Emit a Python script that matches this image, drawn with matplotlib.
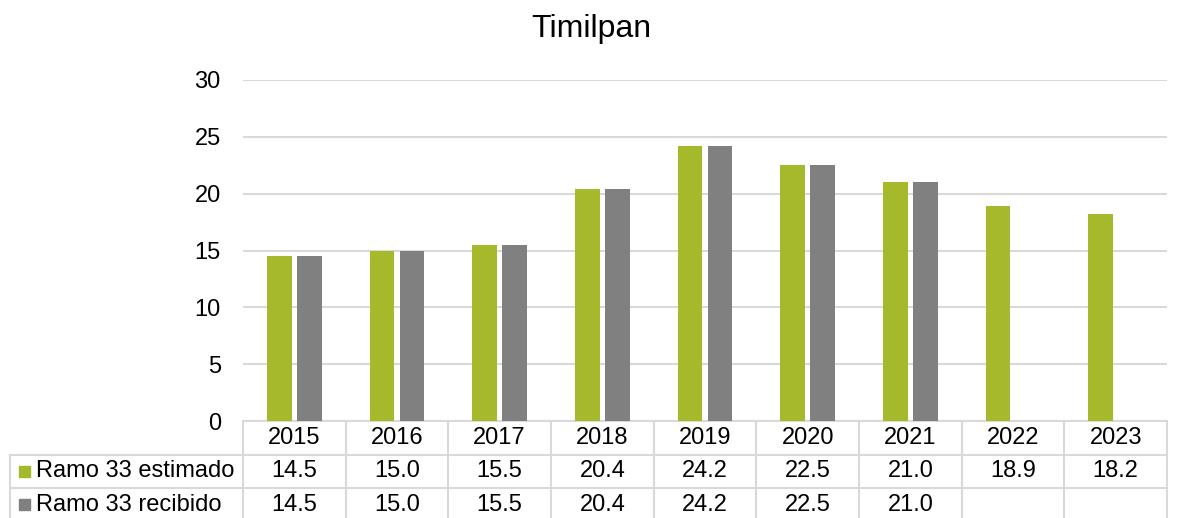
import matplotlib
matplotlib.use("Agg")
import matplotlib.pyplot as plt
import matplotlib.transforms as mtransforms
import numpy as np
from matplotlib.patches import Rectangle

plt.rcParams['font.family'] = ['Liberation Sans', 'DejaVu Sans']

title = "Timilpan"
years = ["2015", "2016", "2017", "2018", "2019", "2020", "2021", "2022", "2023"]
estimado = [14.5, 15.0, 15.5, 20.4, 24.2, 22.5, 21.0, 18.9, 18.2]
recibido = [14.5, 15.0, 15.5, 20.4, 24.2, 22.5, 21.0, None, None]
series_names = ["Ramo 33 estimado", "Ramo 33 recibido"]
colors = ["#A6B92B", "#808080"]
yticks = [0, 5, 10, 15, 20, 25, 30]

W, H = 1182, 518
fig = plt.figure(figsize=(W / 100, H / 100), dpi=100)
ax_l, ax_r, ax_b, ax_t = 243, 1167, 421, 80
ax = fig.add_axes([ax_l / W, 1 - ax_b / H, (ax_r - ax_l) / W, (ax_b - ax_t) / H])

x = np.arange(len(years))
bw = 0.24
off = 0.145
est_vals = np.array(estimado, dtype=float)
rec_vals = np.array([np.nan if v is None else v for v in recibido], dtype=float)
ax.bar(x - off, est_vals, width=bw, color=colors[0], zorder=3)
mask = ~np.isnan(rec_vals)
ax.bar(x[mask] + off, rec_vals[mask], width=bw, color=colors[1], zorder=3)

n = len(years)
ax.set_xlim(-0.5, n - 0.5)
ax.set_ylim(0, 30)
ax.set_yticks(yticks)
ax.set_yticklabels([str(v) for v in yticks], fontsize=17)
ax.tick_params(axis='y', length=0, pad=16)
ax.set_xticks([])
ax.grid(axis='y', color='#D9D9D9', linewidth=1.5, zorder=0)
for s in ax.spines.values():
    s.set_visible(False)

fig.text(0.5, 1 - 29 / H, title, ha='center', va='center', fontsize=23)

# ---- data table drawn below the axes ----
axw = ax_r - ax_l
axh = ax_b - ax_t
row_h = 33.5 / axh          # row height in axes fraction
cat_w = axw / n             # px per category
lab_left = -0.5 - (ax_l - 10) / cat_w   # left edge of label column in data units
trans = mtransforms.blended_transform_factory(ax.transData, ax.transAxes)
grid_c = '#D9D9D9'
lw = 1.5
fs = 17

def fmt(v):
    return "" if v is None else f"{v:.1f}"

rows = [years, [fmt(v) for v in estimado], [fmt(v) for v in recibido]]

# horizontal lines
for r in range(4):
    yy = -r * row_h
    x0 = -0.5 if r == 0 else lab_left
    ax.plot([x0, n - 0.5], [yy, yy], color=grid_c, lw=lw, transform=trans, clip_on=False)
# vertical lines
for k in range(n + 1):
    xx = k - 0.5
    ax.plot([xx, xx], [0, -3 * row_h], color=grid_c, lw=lw, transform=trans, clip_on=False)
ax.plot([lab_left, lab_left], [-row_h, -3 * row_h], color=grid_c, lw=lw, transform=trans, clip_on=False)

# cell texts
for r, vals in enumerate(rows):
    yc = -(r + 0.5) * row_h
    for i, t in enumerate(vals):
        ax.text(i, yc, t, transform=trans, ha='center', va='center', fontsize=fs, clip_on=False)

# row labels with legend keys
sq_w = 11 / cat_w
sq_h = 11 / axh
for i, (name, col) in enumerate(zip(series_names, colors)):
    yc = -(i + 1.5) * row_h
    ax.add_patch(Rectangle((lab_left + 9 / cat_w, yc - sq_h / 2), sq_w, sq_h,
                           transform=trans, color=col, clip_on=False))
    ax.text(lab_left + 26 / cat_w, yc, name, transform=trans, ha='left', va='center',
            fontsize=fs, clip_on=False)

fig.savefig("out.png", dpi=100)
